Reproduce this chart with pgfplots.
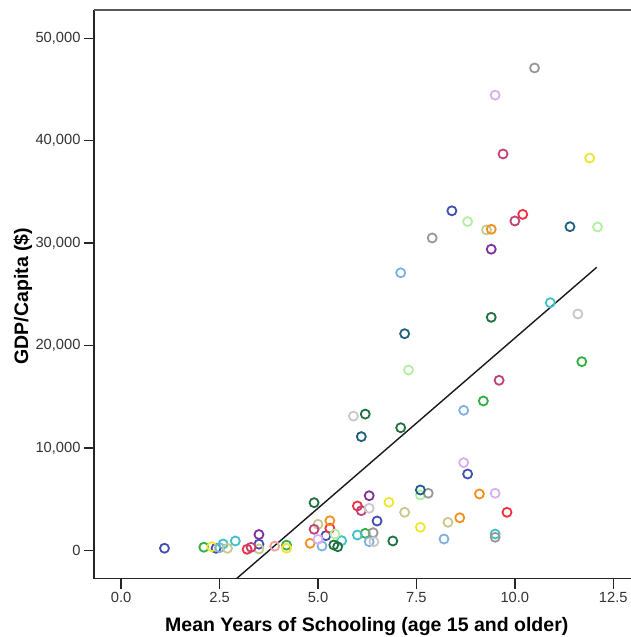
\documentclass[border=0pt]{standalone}
\usepackage{pgfplots}
\pgfplotsset{compat=1.18}
\usepackage{fontspec}
\setmainfont{Liberation Sans}
\definecolor{cblue}{HTML}{4050B0}
\definecolor{cgreen}{HTML}{30B040}
\definecolor{cyellow}{HTML}{F0E630}
\definecolor{clblue}{HTML}{80B0E0}
\definecolor{ccyan}{HTML}{40C0C8}
\definecolor{ctan}{HTML}{C8C890}
\definecolor{cred}{HTML}{F03040}
\definecolor{cpurple}{HTML}{8030A0}
\definecolor{csalmon}{HTML}{F0A0A0}
\definecolor{cdgreen}{HTML}{207040}
\definecolor{corange}{HTML}{F09020}
\definecolor{cmagenta}{HTML}{C0407A}
\definecolor{clav}{HTML}{D8B0F0}
\definecolor{clgreen}{HTML}{B0F0A0}
\definecolor{cgray}{HTML}{989898}
\definecolor{clgray}{HTML}{C8C8C8}
\definecolor{cdteal}{HTML}{1F6080}
\pgfplotsset{pt/.style={only marks, mark=o, mark size=4.5pt, draw=#1, color=#1, mark options={line width=1.8pt}}}
\begin{document}
\begin{tikzpicture}
\begin{axis}[
  at={(0,0)}, anchor=south west,
  scale only axis, width=537pt, height=568.7pt,
  xmin=-0.69, xmax=12.95, ymin=-2773, ymax=52760,
  axis lines*=left,
  axis line style={black!85, line width=1.5pt},
  tick align=outside, major tick length=10pt,
  tick style={black!85, line width=1.5pt},
  xtick={0,2.5,5,7.5,10,12.5},
  ytick={0,10000,20000,30000,40000,50000},
  scaled y ticks=false,
  /pgf/number format/assume math mode=true,
  xticklabel style={font=\fontsize{14.7}{16}\selectfont, text=black!80, /pgf/number format/.cd, fixed, fixed zerofill, precision=1},
  yticklabel style={font=\fontsize{14.7}{16}\selectfont, text=black!80, /pgf/number format/.cd, fixed, 1000 sep={,}},
  xlabel={Mean Years of Schooling (age 15 and older)},
  ylabel={GDP/Capita (\$)},
  every axis x label/.style={at={(rel axis cs:0.508,-0.0932)}, anchor=base, font=\fontsize{19.5}{22}\selectfont\bfseries},
  every axis y label/.style={at={(rel axis cs:-0.1229,0.497)}, rotate=90, anchor=base, font=\fontsize{19.5}{22}\selectfont\bfseries},
  after end axis/.code={\draw[black!65, line width=1.5pt] (rel axis cs:0,1) -- (rel axis cs:1,1);},
]
\addplot[pt=cblue] coordinates {(1.1,200) (2.41,195) (3.5,600) (5.2,1430) (6.5,2860) (8.4,33150) (8.8,7450)};
\addplot[pt=cgreen] coordinates {(2.1,300) (4.2,500) (6.2,1660) (9.2,14580) (11.7,18420)};
\addplot[pt=cyellow] coordinates {(2.3,350) (4.2,200) (6.8,4690) (7.6,2250) (11.9,38300)};
\addplot[pt=clblue] coordinates {(2.5,250) (5.1,420) (6.3,840) (7.1,27100) (8.2,1100) (8.7,13670)};
\addplot[pt=ccyan] coordinates {(2.59,615) (2.9,910) (5.6,940) (6.0,1490) (9.5,1590) (10.9,24180)};
\addplot[pt=ctan] coordinates {(2.7,195) (3.5,130) (5.0,2540) (7.2,3710) (8.3,2730) (9.28,31280)};
\addplot[pt=cred] coordinates {(3.2,100) (6.0,4330) (5.3,2150) (9.8,3710) (10.2,32800)};
\addplot[pt=cpurple] coordinates {(3.5,1540) (6.3,5330) (9.4,29400)};
\addplot[pt=csalmon] coordinates {(3.9,400)};
\addplot[pt=cdgreen] coordinates {(4.9,4650) (5.4,520) (5.5,350) (6.9,910) (6.2,13300) (7.1,11970) (9.4,22750)};
\addplot[pt=corange] coordinates {(4.8,680) (5.3,2890) (8.6,3180) (9.1,5500) (9.4,31350)};
\addplot[pt=cmagenta] coordinates {(3.3,290) (4.9,2050) (6.1,3870) (9.6,16600) (9.7,38700) (10.0,32160)};
\addplot[pt=clav] coordinates {(5.0,1070) (8.7,8560) (9.5,5570) (9.5,44450)};
\addplot[pt=clgreen] coordinates {(5.43,1590) (7.6,5400) (7.3,17600) (8.8,32100) (12.1,31570)};
\addplot[pt=cgray] coordinates {(6.4,1720) (7.8,5570) (9.5,1270) (7.9,30500) (10.5,47100)};
\addplot[pt=clgray] coordinates {(6.42,840) (6.3,4100) (5.9,13100) (11.6,23080)};
\addplot[pt=cdteal] coordinates {(7.6,5890) (6.1,11100) (7.2,21150) (11.4,31600)};
\addplot[black!90, line width=1.4pt] coordinates {(1.1,-8849) (12.08,27637)};
\end{axis}
\pgfresetboundingbox
\path (-94pt,-58.3pt) rectangle (537pt,578.7pt);
\end{tikzpicture}
\end{document}
